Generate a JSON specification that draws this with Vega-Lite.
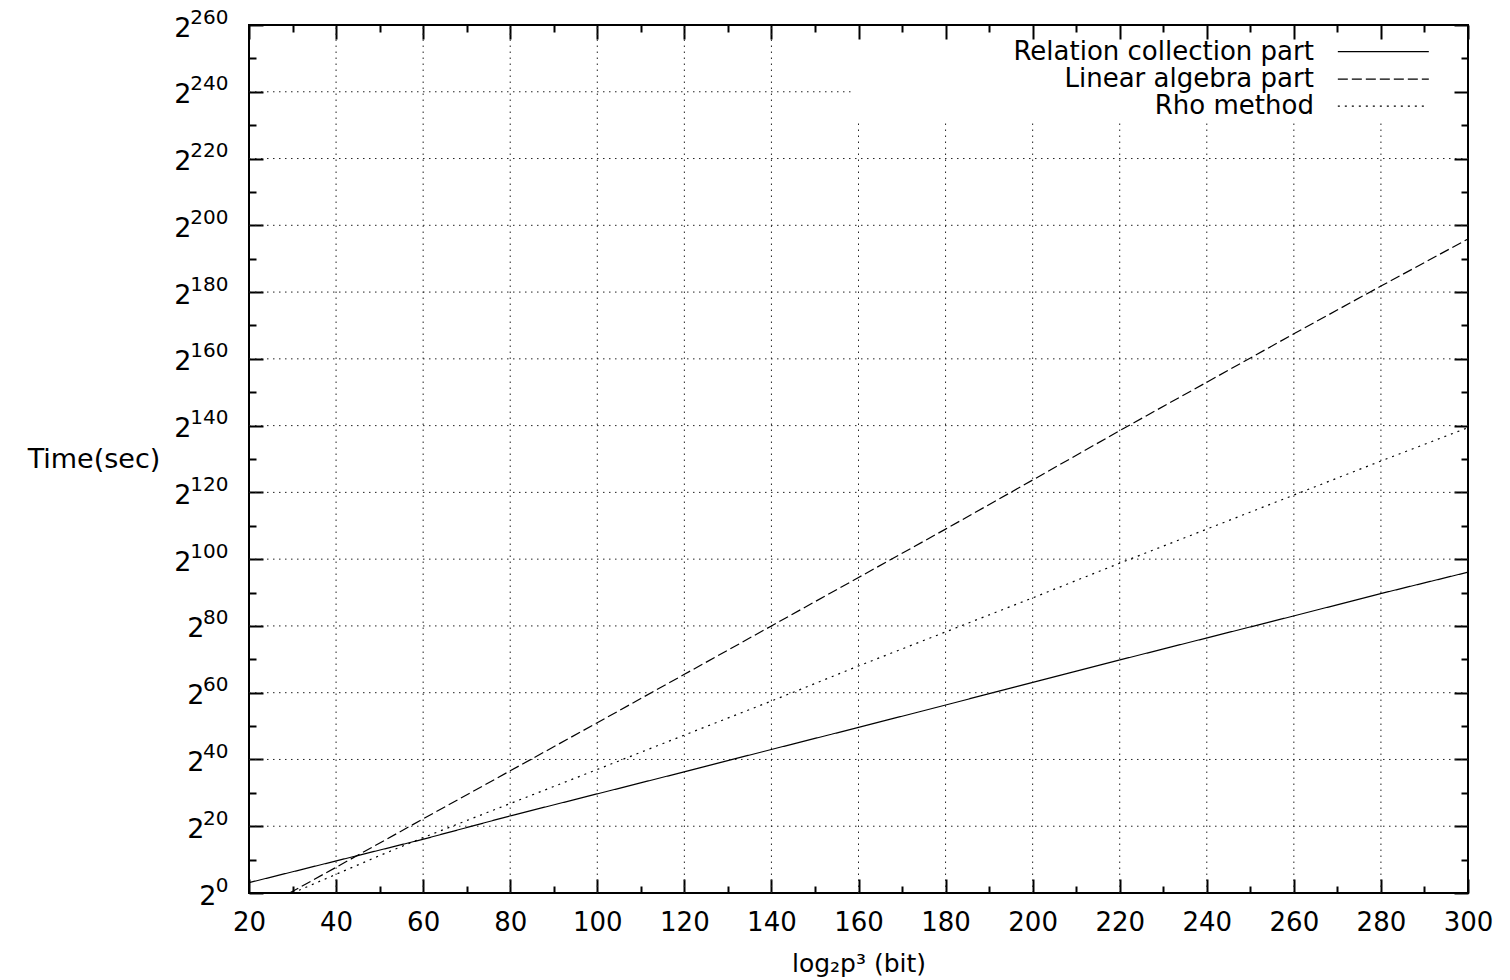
{
  "$schema": "https://vega.github.io/schema/vega-lite/v6.json",
  "width": 1219,
  "height": 868,
  "autosize": {"type": "none"},
  "padding": {"left": 249, "top": 25, "right": 42, "bottom": 87},
  "background": "white",
  "config": {
    "view": {"stroke": "black", "strokeWidth": 2},
    "font": "DejaVu Sans",
    "axis": {"labelColor": "black", "titleColor": "black", "labelFont": "DejaVu Sans", "titleFont": "DejaVu Sans", "titleFontWeight": "normal"}
  },
  "datasets": {
    "hgrid": [
      {"y": 20, "x1": 20, "x2": 300}, {"y": 40, "x1": 20, "x2": 300}, {"y": 60, "x1": 20, "x2": 300},
      {"y": 80, "x1": 20, "x2": 300}, {"y": 100, "x1": 20, "x2": 300}, {"y": 120, "x1": 20, "x2": 300},
      {"y": 140, "x1": 20, "x2": 300}, {"y": 160, "x1": 20, "x2": 300}, {"y": 180, "x1": 20, "x2": 300},
      {"y": 200, "x1": 20, "x2": 300}, {"y": 220, "x1": 20, "x2": 300}, {"y": 240, "x1": 20, "x2": 158.5}
    ],
    "vgrid": [
      {"x": 40, "y1": 0, "y2": 260}, {"x": 60, "y1": 0, "y2": 260}, {"x": 80, "y1": 0, "y2": 260},
      {"x": 100, "y1": 0, "y2": 260}, {"x": 120, "y1": 0, "y2": 260}, {"x": 140, "y1": 0, "y2": 260},
      {"x": 160, "y1": 0, "y2": 231.6}, {"x": 180, "y1": 0, "y2": 231.6}, {"x": 200, "y1": 0, "y2": 231.6},
      {"x": 220, "y1": 0, "y2": 231.6}, {"x": 240, "y1": 0, "y2": 231.6}, {"x": 260, "y1": 0, "y2": 231.6},
      {"x": 280, "y1": 0, "y2": 231.6}
    ],
    "curves": [
      {"series": "Relation collection part", "x": 20, "y": 3.1},
      {"series": "Relation collection part", "x": 40, "y": 9.6},
      {"series": "Relation collection part", "x": 60, "y": 16.1},
      {"series": "Relation collection part", "x": 80, "y": 23.1},
      {"series": "Relation collection part", "x": 100, "y": 29.7},
      {"series": "Relation collection part", "x": 120, "y": 36.3},
      {"series": "Relation collection part", "x": 140, "y": 43.0},
      {"series": "Relation collection part", "x": 160, "y": 49.6},
      {"series": "Relation collection part", "x": 180, "y": 56.3},
      {"series": "Relation collection part", "x": 200, "y": 63.1},
      {"series": "Relation collection part", "x": 220, "y": 69.8},
      {"series": "Relation collection part", "x": 240, "y": 76.4},
      {"series": "Relation collection part", "x": 260, "y": 83.0},
      {"series": "Relation collection part", "x": 280, "y": 89.7},
      {"series": "Relation collection part", "x": 300, "y": 96.1},
      {"series": "Linear algebra part", "x": 29.3, "y": 0},
      {"series": "Linear algebra part", "x": 40, "y": 7.7},
      {"series": "Linear algebra part", "x": 60, "y": 22.2},
      {"series": "Linear algebra part", "x": 80, "y": 36.6},
      {"series": "Linear algebra part", "x": 100, "y": 51.0},
      {"series": "Linear algebra part", "x": 120, "y": 65.5},
      {"series": "Linear algebra part", "x": 140, "y": 80.0},
      {"series": "Linear algebra part", "x": 160, "y": 94.5},
      {"series": "Linear algebra part", "x": 180, "y": 109.0},
      {"series": "Linear algebra part", "x": 200, "y": 123.7},
      {"series": "Linear algebra part", "x": 220, "y": 138.5},
      {"series": "Linear algebra part", "x": 240, "y": 153.0},
      {"series": "Linear algebra part", "x": 260, "y": 167.5},
      {"series": "Linear algebra part", "x": 280, "y": 181.8},
      {"series": "Linear algebra part", "x": 300, "y": 195.9},
      {"series": "Rho method", "x": 30, "y": 0},
      {"series": "Rho method", "x": 40, "y": 5.6},
      {"series": "Rho method", "x": 50, "y": 11.2},
      {"series": "Rho method", "x": 60, "y": 16.6},
      {"series": "Rho method", "x": 80, "y": 26.8},
      {"series": "Rho method", "x": 100, "y": 37.0},
      {"series": "Rho method", "x": 120, "y": 47.3},
      {"series": "Rho method", "x": 140, "y": 57.5},
      {"series": "Rho method", "x": 160, "y": 68.0},
      {"series": "Rho method", "x": 180, "y": 78.2},
      {"series": "Rho method", "x": 200, "y": 88.4},
      {"series": "Rho method", "x": 220, "y": 98.8},
      {"series": "Rho method", "x": 240, "y": 109.0},
      {"series": "Rho method", "x": 260, "y": 119.2},
      {"series": "Rho method", "x": 280, "y": 129.4},
      {"series": "Rho method", "x": 300, "y": 139.4}
    ],
    "legend": [
      {"series": "Relation collection part", "tx": 264.6, "y": 252.0, "s1": 270.1, "s2": 291.0},
      {"series": "Linear algebra part", "tx": 264.6, "y": 243.8, "s1": 270.1, "s2": 291.0},
      {"series": "Rho method", "tx": 264.6, "y": 235.7, "s1": 270.1, "s2": 291.0}
    ]
  },
  "resolve": {"axis": {"x": "independent", "y": "independent"}},
  "layer": [
    {
      "data": {"name": "hgrid"},
      "mark": {"type": "rule", "stroke": "#222222", "strokeWidth": 1, "strokeDash": [1.5, 4.5]},
      "encoding": {
        "x": {"field": "x1", "type": "quantitative", "scale": {"domain": [20, 300], "nice": false, "zero": false},
          "axis": {"orient": "bottom", "values": [20, 40, 60, 80, 100, 120, 140, 160, 180, 200, 220, 240, 260, 280, 300],
            "ticks": false, "domain": false, "grid": false, "labelFontSize": 26, "labelPadding": 16,
            "labelFlush": false, "labelOverlap": false, "format": "d",
            "title": "log₂p³ (bit)", "titleFontSize": 25, "titlePadding": 16}},
        "x2": {"field": "x2"},
        "y": {"field": "y", "type": "quantitative", "scale": {"domain": [0, 260], "nice": false, "zero": false},
          "axis": {"orient": "left", "values": [0, 20, 40, 60, 80, 100, 120, 140, 160, 180, 200, 220, 240, 260],
            "ticks": false, "domain": false, "grid": false, "labelExpr": "'2'", "labelFontSize": 27, "labelOffset": 3,
            "labelPadding": {"condition": [{"test": "datum.value >= 100", "value": 58}, {"test": "datum.value >= 10", "value": 45}], "value": 33},
            "labelFlush": false, "labelOverlap": false,
            "title": "Time(sec)", "titleAngle": 0, "titleAlign": "right", "titleBaseline": "middle", "titleFontSize": 27, "titlePadding": 14}}
      }
    },
    {
      "data": {"name": "vgrid"},
      "mark": {"type": "rule", "stroke": "#222222", "strokeWidth": 1, "strokeDash": [1.5, 4.5]},
      "encoding": {
        "x": {"field": "x", "type": "quantitative", "scale": {"domain": [20, 300], "nice": false, "zero": false},
          "axis": {"orient": "bottom", "values": [20, 30, 40, 50, 60, 70, 80, 90, 100, 110, 120, 130, 140, 150, 160, 170, 180, 190, 200, 210, 220, 230, 240, 250, 260, 270, 280, 290, 300],
            "labels": false, "domain": false, "grid": false, "ticks": true, "tickColor": "black", "tickWidth": 2,
            "tickSize": {"condition": {"test": "datum.value % 20 === 0", "value": -14}, "value": -7}, "title": null}},
        "y": {"field": "y1", "type": "quantitative", "scale": {"domain": [0, 260], "nice": false, "zero": false},
          "axis": {"orient": "left", "values": [0, 20, 40, 60, 80, 100, 120, 140, 160, 180, 200, 220, 240, 260],
            "ticks": false, "domain": false, "grid": false, "labelFontSize": 20, "labelOffset": -8, "labelPadding": 21,
            "format": "d", "labelFlush": false, "labelOverlap": false, "title": null}},
        "y2": {"field": "y2"}
      }
    },
    {
      "data": {"name": "curves"},
      "mark": {"type": "line", "stroke": "black", "strokeWidth": 1.2},
      "encoding": {
        "x": {"field": "x", "type": "quantitative", "scale": {"domain": [20, 300], "nice": false, "zero": false},
          "axis": {"orient": "top", "values": [20, 30, 40, 50, 60, 70, 80, 90, 100, 110, 120, 130, 140, 150, 160, 170, 180, 190, 200, 210, 220, 230, 240, 250, 260, 270, 280, 290, 300],
            "labels": false, "domain": false, "grid": false, "ticks": true, "tickColor": "black", "tickWidth": 2,
            "tickSize": {"condition": {"test": "datum.value % 20 === 0", "value": -14}, "value": -7}, "title": null}},
        "y": {"field": "y", "type": "quantitative", "scale": {"domain": [0, 260], "nice": false, "zero": false},
          "axis": {"orient": "left", "values": [0, 10, 20, 30, 40, 50, 60, 70, 80, 90, 100, 110, 120, 130, 140, 150, 160, 170, 180, 190, 200, 210, 220, 230, 240, 250, 260],
            "labels": false, "domain": false, "grid": false, "ticks": true, "tickColor": "black", "tickWidth": 2,
            "tickSize": {"condition": {"test": "datum.value % 20 === 0", "value": -14}, "value": -7}, "title": null}},
        "strokeDash": {"field": "series", "type": "nominal",
          "scale": {"domain": ["Relation collection part", "Linear algebra part", "Rho method"], "range": [[1, 0], [10, 4], [2, 5]]},
          "legend": null}
      }
    },
    {
      "data": {"name": "legend"},
      "mark": {"type": "text", "align": "right", "baseline": "middle", "font": "DejaVu Sans", "fontSize": 26, "color": "black"},
      "encoding": {
        "x": {"field": "tx", "type": "quantitative", "scale": {"domain": [20, 300], "nice": false, "zero": false}, "axis": null},
        "y": {"field": "y", "type": "quantitative", "scale": {"domain": [0, 260], "nice": false, "zero": false},
          "axis": {"orient": "right", "values": [0, 10, 20, 30, 40, 50, 60, 70, 80, 90, 100, 110, 120, 130, 140, 150, 160, 170, 180, 190, 200, 210, 220, 230, 240, 250, 260],
            "labels": false, "domain": false, "grid": false, "ticks": true, "tickColor": "black", "tickWidth": 2,
            "tickSize": {"condition": {"test": "datum.value % 20 === 0", "value": -14}, "value": -7}, "title": null}},
        "text": {"field": "series", "type": "nominal"}
      }
    },
    {
      "data": {"name": "legend"},
      "mark": {"type": "rule", "stroke": "black", "strokeWidth": 1.2},
      "encoding": {
        "x": {"field": "s1", "type": "quantitative", "scale": {"domain": [20, 300], "nice": false, "zero": false}, "axis": null},
        "x2": {"field": "s2"},
        "y": {"field": "y", "type": "quantitative", "scale": {"domain": [0, 260], "nice": false, "zero": false}, "axis": null},
        "strokeDash": {"field": "series", "type": "nominal",
          "scale": {"domain": ["Relation collection part", "Linear algebra part", "Rho method"], "range": [[1, 0], [10, 4], [2, 5]]},
          "legend": null}
      }
    }
  ]
}
